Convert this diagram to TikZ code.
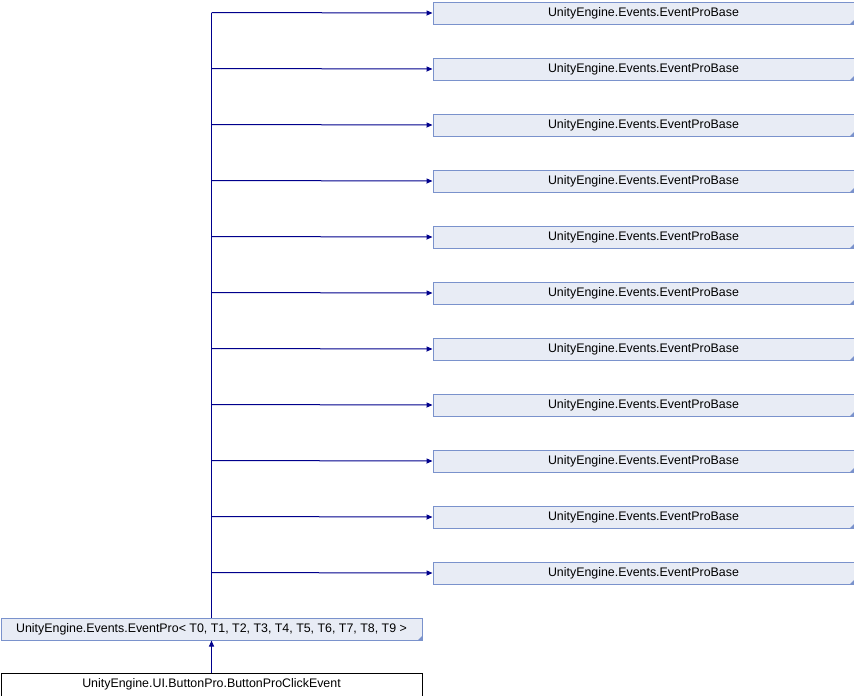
\documentclass[tikz,border=0pt]{standalone}
\usepackage{fontspec}
\setmainfont{Liberation Sans}
\usetikzlibrary{arrows.meta}
\definecolor{boxfill}{RGB}{232,236,245}
\definecolor{boxdraw}{RGB}{122,146,204}
\definecolor{edgecol}{RGB}{0,0,140}
\begin{document}
\begin{tikzpicture}[x=1pt,y=-1pt,
  cls/.style={draw=boxdraw,fill=boxfill,line width=1pt,minimum width=421pt,minimum height=22pt,inner sep=0pt,font=\fontsize{12.4}{14}\selectfont,anchor=north west},
  plain/.style={draw=black,fill=white,line width=1pt,minimum width=421pt,minimum height=23pt,inner sep=0pt,font=\fontsize{12.4}{14}\selectfont,anchor=north west},
  edge/.style={draw=edgecol,line width=1pt,-{Triangle[length=6pt,width=5pt]}},
  trunk/.style={draw=edgecol,line width=1pt}]
\useasboundingbox (0,0) rectangle (854,696);
\foreach \i in {0,...,10}{
  \node[cls] (b\i) at (432.5,{1.5+56*\i}) {UnityEngine.Events.EventProBase};
  \fill[boxdraw] (b\i.south east) -- ++(0,-5) -- ++(-5,5) -- cycle;
}
\node[cls] (ep) at (0.5,617.5) {UnityEngine.Events.EventPro< T0, T1, T2, T3, T4, T5, T6, T7, T8, T9 >};
\fill[boxdraw] (ep.south east) -- ++(0,-5) -- ++(-5,5) -- cycle;
\node[plain] (bp) at (0.5,672.5) {UnityEngine.UI.ButtonPro.ButtonProClickEvent};
\coordinate (top) at (211.5,12.5);
\draw[trunk] (ep.north -| top) -- (top);
\foreach \i in {0,...,10}{
  \coordinate (j\i) at (211.5,{12.5+56*\i});
  \draw[edge] (j\i) -- (b\i.west);
}
\draw[edge] (bp.north -| top) -- (ep.south -| top);
\end{tikzpicture}
\end{document}
